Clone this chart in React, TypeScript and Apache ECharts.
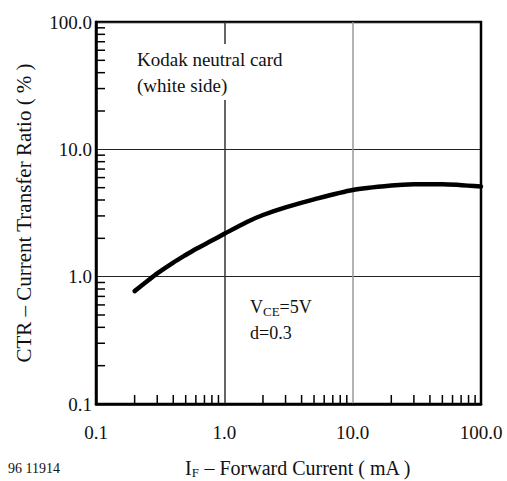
import React, { useEffect, useRef } from "react";
import * as echarts from "echarts";

const IF_MA = [0.2, 0.25, 0.3, 0.4, 0.5, 0.6, 0.8, 1, 1.5, 2, 3, 5, 10, 20, 30, 50, 100];
const CTR_PCT = [0.77, 0.92, 1.06, 1.29, 1.48, 1.65, 1.92, 2.17, 2.69, 3.05, 3.5, 4.05, 4.8, 5.2, 5.32, 5.33, 5.1];
const MINOR_TICKS = [0.2, 0.3, 0.4, 0.5, 0.6, 0.7, 0.8, 0.9, 2, 3, 4, 5, 6, 7, 8, 9, 20, 30, 40, 50, 60, 70, 80, 90];
const AXIS_MIN = 0.1;
const AXIS_MAX = 100;

const FONT = "'Liberation Serif', 'DejaVu Serif', serif";

const fmt = (v: number) => (Math.abs(v - 0.1) < 1e-9 ? "0.1" : v.toFixed(1));

export default function App() {
  const ref = useRef<HTMLDivElement>(null);
  useEffect(() => {
    if (!ref.current) return;
    const chart = echarts.init(ref.current, null, { renderer: "svg" });
    const tickLen = 9;
    chart.setOption({
      animation: false,
      backgroundColor: "#fff",
      grid: {
        left: 96,
        right: 26,
        top: 22,
        bottom: 77,
        containLabel: false,
        outerBoundsMode: "none",
        show: true,
        borderColor: "#000",
        borderWidth: 2.5,
        backgroundColor: "transparent",
      },
      xAxis: {
        type: "log",
        logBase: 10,
        min: AXIS_MIN,
        max: AXIS_MAX,
        name: "{a|I}{b|F}{a| – Forward Current ( mA )}",
        nameLocation: "middle",
        nameGap: 53,
        nameTextStyle: {
          padding: [0, 0, 0, 19],
          rich: {
            a: { fontFamily: FONT, fontSize: 20, lineHeight: 22, color: "#111" },
            b: { fontFamily: FONT, fontSize: 13, lineHeight: 12, color: "#111", verticalAlign: "bottom" },
          },
        },
        axisLine: { show: true, lineStyle: { color: "#000", width: 2.5 } },
        axisTick: { show: false },
        axisLabel: {
          formatter: fmt,
          fontFamily: FONT,
          fontSize: 19,
          color: "#111",
          margin: 19,
        },
        splitLine: {
          show: true,
          lineStyle: { color: ["#000", "#333", "#999", "#000"], width: 1.5 },
        },
      },
      yAxis: {
        type: "log",
        logBase: 10,
        min: AXIS_MIN,
        max: AXIS_MAX,
        name: "CTR – Current Transfer Ratio ( % )",
        nameLocation: "middle",
        nameGap: 62,
        nameTextStyle: { fontFamily: FONT, fontSize: 21, color: "#111" },
        axisLine: { show: true, lineStyle: { color: "#000", width: 2.5 } },
        axisTick: { show: false },
        axisLabel: {
          formatter: fmt,
          fontFamily: FONT,
          fontSize: 19,
          color: "#111",
          margin: 4,
        },
        splitLine: { show: true, lineStyle: { color: "#222", width: 1.2 } },
      },
      graphic: [
        {
          type: "text",
          z: 100,
          left: 135,
          top: 44,
          style: {
            text: "Kodak neutral card\n(white side)",
            font: `19px ${FONT}`,
            lineHeight: 26,
            fill: "#111",
            backgroundColor: "#fff",
            padding: [2, 2, 2, 2],
          },
        },
        {
          type: "text",
          z: 100,
          left: 250,
          top: 294,
          style: {
            text: "{a|V}{b|CE}{a|=5V}\n{a|d=0.3}",
            lineHeight: 26,
            fill: "#111",
            rich: {
              a: { fontFamily: FONT, fontSize: 18, fill: "#111" },
              b: { fontFamily: FONT, fontSize: 13, fill: "#111", padding: [9, 0, 0, 0] },
            },
          },
        },
        {
          type: "text",
          z: 100,
          left: 8,
          top: 461,
          style: {
            text: "96 11914",
            font: `14px ${FONT}`,
            fill: "#111",
          },
        },
      ],
      series: [
        {
          type: "line",
          data: IF_MA.map((x, i) => [x, CTR_PCT[i]]),
          smooth: 0.25,
          symbol: "none",
          lineStyle: { color: "#000", width: 4.5, cap: "round", join: "round" },
          z: 10,
        },
        {
          type: "custom",
          data: MINOR_TICKS.map((v) => [v, AXIS_MIN]),
          renderItem: (_p: any, api: any) => {
            const pt = api.coord([api.value(0), api.value(1)]);
            return {
              type: "line",
              shape: { x1: pt[0], y1: pt[1], x2: pt[0], y2: pt[1] - tickLen },
              style: { stroke: "#000", lineWidth: 1.5 },
            };
          },
          silent: true,
          z: 5,
        },
        {
          type: "custom",
          data: MINOR_TICKS.map((v) => [AXIS_MIN, v]),
          renderItem: (_p: any, api: any) => {
            const pt = api.coord([api.value(0), api.value(1)]);
            return {
              type: "line",
              shape: { x1: pt[0], y1: pt[1], x2: pt[0] + tickLen, y2: pt[1] },
              style: { stroke: "#000", lineWidth: 1.5 },
            };
          },
          silent: true,
          z: 5,
        },
      ],
    });
    return () => chart.dispose();
  }, []);
  return <div ref={ref} style={{ width: 507, height: 481, position: "absolute", left: 0, top: 0 }} />;
}
